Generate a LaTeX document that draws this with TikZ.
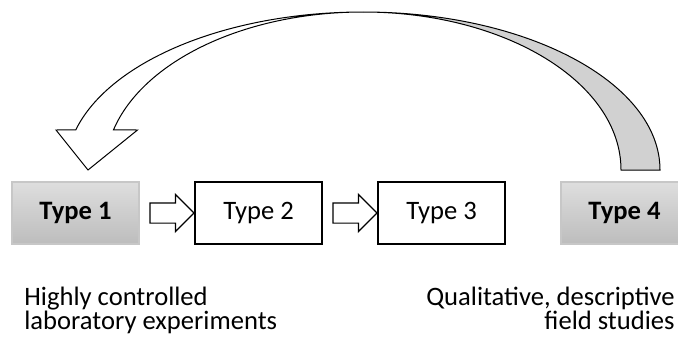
\documentclass[tikz,border=0pt]{standalone}
\usepackage{fontspec}
\setmainfont{Carlito}
\usepackage{tikz}
\usetikzlibrary{positioning, shapes.arrows, calc}
\tikzset{
	x=0.5pt, y=0.5pt, % one unit is one pixel of the layout
	node distance=91.5pt, % distance between the centres of the type boxes
	typebox/.style={draw, line width=0.7pt, minimum width=63.5pt, minimum height=31pt, inner sep=0pt, font=\fontsize{13.3}{12}\selectfont}, % plain study type
	graybox/.style={typebox, draw=black!22, top color=black!13, bottom color=black!26, font=\fontsize{13.3}{12}\selectfont\bfseries}, % the two ends of the range
	blockarrow/.style={single arrow, draw, fill=white, line width=0.6pt, inner xsep=0pt, inner ysep=4.75pt, minimum height=22pt, single arrow head extend=4.25pt}, % small arrows between boxes
	note/.style={inner sep=0pt, font=\fontsize{13.3}{12}\selectfont}, % texts under the boxes
}
\begin{document}
\begin{tikzpicture}
	\useasboundingbox (0,0) rectangle (678,339);
	\node[graybox] (t1) at (75.5,126) {Type 1};
	\node[typebox, right of=t1] (t2) {Type 2};
	\node[typebox, right of=t2] (t3) {Type 3};
	\node[graybox, right of=t3] (t4) {Type 4};
	\node[blockarrow] (a12) at ($(t1.east)!0.5!(t2.west)$) {};
	\node[blockarrow] (a23) at ($(t2.east)!0.5!(t3.west)$) {};
	\node[note, anchor=base west, align=left] (lab) at (24,10) {Highly controlled\\laboratory experiments};
	\node[note, anchor=base east, align=right] (fld) at (675,10) {Qualitative, descriptive\\field studies};
	% curved arrow from type 4 back to type 1
	\coordinate (c) at (363,169);
	\filldraw[fill=black!18, line width=0.5pt] ($(c)+(297,0)$) arc[start angle=0, end angle=90, x radius=297, y radius=158]
		arc[start angle=90, end angle=0, x radius=258, y radius=158] -- cycle;
	\filldraw[fill=white, line width=0.5pt] ($(c)+(0,158)$) arc[start angle=90, end angle=165.3, x radius=297, y radius=158]
		-- (56,209) -- (88,169) -- (137.5,209) -- ($(c)+(165.3:258 and 158)$)
		arc[start angle=165.3, end angle=90, x radius=258, y radius=158] -- cycle;
\end{tikzpicture}
\end{document}
